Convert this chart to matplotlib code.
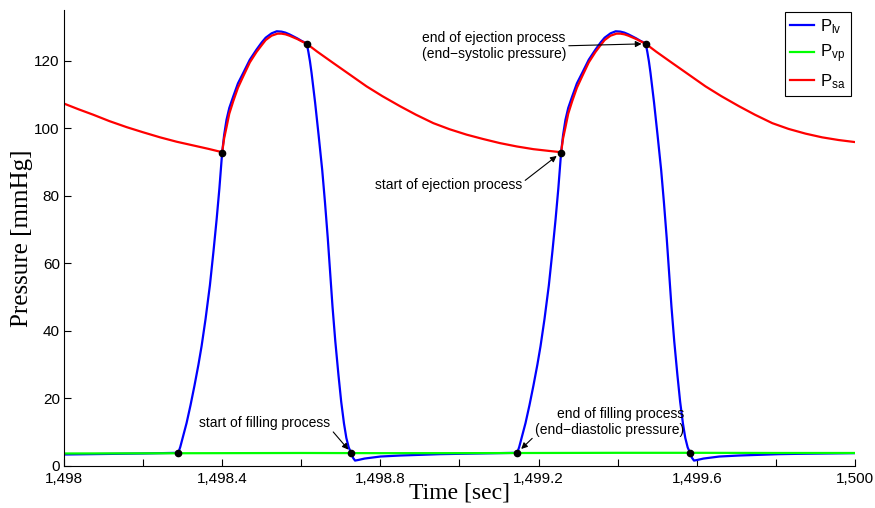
import numpy as np
import matplotlib
matplotlib.use("Agg")
import matplotlib.pyplot as plt

plt.rcParams['font.family'] = ['Liberation Sans', 'DejaVu Sans']

# left ventricular pressure, first beat
t_lv1 = [1498.000, 1498.100, 1498.200, 1498.289, 1498.294, 1498.300, 1498.310,
         1498.320, 1498.330, 1498.340, 1498.348, 1498.358, 1498.369, 1498.378,
         1498.386, 1498.393, 1498.400, 1498.405, 1498.411, 1498.418, 1498.428,
         1498.440, 1498.453, 1498.470, 1498.487, 1498.500, 1498.510, 1498.525,
         1498.538, 1498.550, 1498.560, 1498.570, 1498.580, 1498.590, 1498.600,
         1498.607, 1498.614, 1498.618, 1498.622, 1498.626, 1498.630, 1498.635,
         1498.644, 1498.653, 1498.660, 1498.667, 1498.673, 1498.679, 1498.686,
         1498.694, 1498.701, 1498.708, 1498.714, 1498.720, 1498.726, 1498.731,
         1498.736, 1498.745, 1498.760, 1498.780, 1498.800, 1498.850, 1498.900,
         1498.950, 1499.000, 1499.070]
p_lv1 = [3.4, 3.55, 3.7, 3.9, 5.6, 8.3, 12.7,
         18.0, 23.8, 30.0, 35.5, 43.5, 53.5, 63.5,
         73.0, 82.2, 92.8, 98.0, 102.5, 106.0, 109.4,
         113.3, 116.3, 120.3, 123.3, 125.4, 126.8, 128.1,
         128.7, 128.6, 128.3, 127.8, 127.2, 126.6, 125.9,
         125.5, 125.0, 122.6, 119.8, 116.4, 112.6, 107.6,
         97.8, 87.6, 78.0, 67.5, 57.5, 47.2, 37.0,
         27.0, 19.0, 12.6, 8.3, 5.5, 3.9, 2.4,
         1.6, 1.8, 2.2, 2.5, 2.8, 3.1, 3.3,
         3.5, 3.6, 3.75]

# left ventricular pressure, second beat
t_lv2 = [1499.146, 1499.151, 1499.157, 1499.167, 1499.177, 1499.187, 1499.197,
         1499.205, 1499.215, 1499.226, 1499.235, 1499.243, 1499.250, 1499.257,
         1499.262, 1499.268, 1499.275, 1499.285, 1499.297, 1499.310, 1499.327,
         1499.344, 1499.357, 1499.367, 1499.382, 1499.395, 1499.407, 1499.417,
         1499.427, 1499.437, 1499.447, 1499.457, 1499.464, 1499.471, 1499.475,
         1499.479, 1499.483, 1499.487, 1499.492, 1499.501, 1499.510, 1499.517,
         1499.524, 1499.530, 1499.536, 1499.543, 1499.551, 1499.558, 1499.565,
         1499.571, 1499.577, 1499.583, 1499.588, 1499.593, 1499.602, 1499.617,
         1499.637, 1499.657, 1499.707, 1499.757, 1499.807, 1499.857, 1500.000]
p_lv2 = [3.9, 5.6, 8.3, 12.7, 18.0, 23.8, 30.0,
         35.5, 43.5, 53.5, 63.5, 73.0, 82.2, 92.8,
         98.0, 102.5, 106.0, 109.4, 113.3, 116.3, 120.3,
         123.3, 125.4, 126.8, 128.1, 128.7, 128.6, 128.3,
         127.8, 127.2, 126.6, 125.9, 125.5, 125.0, 122.6,
         119.8, 116.4, 112.6, 107.6, 97.8, 87.6, 78.0,
         67.5, 57.5, 47.2, 37.0, 27.0, 19.0, 12.6,
         8.3, 5.5, 3.9, 2.4, 1.6, 1.8, 2.2,
         2.5, 2.8, 3.1, 3.3, 3.5, 3.6, 3.8]

# pulmonary venous pressure
t_vp = [1498.0, 1498.2, 1498.4, 1498.6, 1498.8, 1499.0, 1499.2, 1499.4,
        1499.6, 1499.8, 1500.0]
p_vp = [3.7, 3.75, 3.8, 3.85, 3.8, 3.8, 3.85, 3.9, 3.9, 3.85, 3.85]

# systemic arterial pressure
t_sa = [1498.000, 1498.037, 1498.074, 1498.115, 1498.159, 1498.200, 1498.243,
        1498.285, 1498.327, 1498.365, 1498.400, 1498.405, 1498.411, 1498.418,
        1498.428, 1498.440, 1498.453, 1498.470, 1498.487, 1498.500, 1498.510,
        1498.525, 1498.540, 1498.550, 1498.560, 1498.570, 1498.580, 1498.590,
        1498.600, 1498.607, 1498.614, 1498.640, 1498.681, 1498.720, 1498.765,
        1498.805, 1498.850, 1498.890, 1498.934, 1498.975, 1499.018, 1499.060,
        1499.102, 1499.145, 1499.187, 1499.225, 1499.257, 1499.262, 1499.268,
        1499.275, 1499.285, 1499.297, 1499.310, 1499.327, 1499.344, 1499.357,
        1499.367, 1499.382, 1499.397, 1499.407, 1499.417, 1499.427, 1499.437,
        1499.447, 1499.457, 1499.464, 1499.471, 1499.497, 1499.538, 1499.577,
        1499.622, 1499.662, 1499.707, 1499.747, 1499.791, 1499.832, 1499.875,
        1499.917, 1499.959, 1500.000]
p_sa = [107.3, 105.6, 104.0, 102.1, 100.3, 98.8, 97.3,
        96.0, 94.9, 93.9, 92.9, 97.0, 100.3, 104.3,
        108.0, 112.0, 115.3, 119.5, 122.6, 124.6, 126.1,
        127.4, 128.0, 128.0, 127.8, 127.4, 126.9, 126.4,
        125.8, 125.4, 125.0, 122.7, 119.3, 116.1, 112.4,
        109.5, 106.5, 104.0, 101.5, 99.7, 98.1, 96.8,
        95.6, 94.6, 93.8, 93.3, 92.9, 97.0, 100.3,
        104.3, 108.0, 112.0, 115.3, 119.5, 122.6, 124.6,
        126.1, 127.4, 128.0, 128.0, 127.8, 127.4, 126.9,
        126.4, 125.8, 125.4, 125.0, 122.7, 119.3, 116.1,
        112.4, 109.5, 106.5, 104.0, 101.5, 99.8, 98.4,
        97.3, 96.5, 95.9]

# valve events (filling end, ejection start, ejection end, filling start)
ev_t = [1498.289, 1498.400, 1498.614, 1498.726, 1499.146, 1499.257, 1499.471, 1499.583]
ev_p = [3.9, 92.8, 125.0, 3.9, 3.9, 92.8, 125.0, 3.9]

xticks = [1498.0, 1498.2, 1498.4, 1498.6, 1498.8, 1499.0, 1499.2, 1499.4, 1499.6, 1499.8, 1500.0]
xlabels = ['1,498', '', '1,498.4', '', '1,498.8', '', '1,499.2', '', '1,499.6', '', '1,500']
yticks = [0, 20, 40, 60, 80, 100, 120]

fig = plt.figure(figsize=(8.75, 5.08), dpi=100)
ax = fig.add_axes([0.0731, 0.0827, 0.904, 0.8976])

ax.plot(t_lv1 + t_lv2, p_lv1 + p_lv2, color='#0000ff', lw=1.6, label=r'$\mathregular{P_{lv}}$')
ax.plot(t_vp, p_vp, color='#00ff00', lw=1.6, label=r'$\mathregular{P_{vp}}$')
ax.plot(t_sa, p_sa, color='#ff0000', lw=1.6, label=r'$\mathregular{P_{sa}}$')
ax.plot(ev_t, ev_p, 'o', color='black', ms=4.5, zorder=5)

ax.set_xlim(1498, 1500)
ax.set_ylim(0, 135)
ax.set_xticks(xticks)
ax.set_xticklabels(xlabels)
ax.set_yticks(yticks)
ax.tick_params(direction='in', length=5, width=0.8, labelsize=11, pad=3)
ax.tick_params(axis='x', pad=4.5)
for s in ['top', 'right']:
    ax.spines[s].set_visible(False)
for s in ['left', 'bottom']:
    ax.spines[s].set_linewidth(0.8)

ax.set_xlabel('Time [sec]', family='Liberation Serif', fontsize=17, labelpad=-3)
ax.set_ylabel('Pressure [mmHg]', family='Liberation Serif', fontsize=18, labelpad=1)

apr = dict(arrowstyle='-|>', color='black', lw=0.8, mutation_scale=9, shrinkA=0)
ax.annotate('end of ejection process\n(end\u2212systolic pressure)',
            xy=(ev_t[6], ev_p[6]), xytext=(1499.087, 124.4),
            ha='center', va='center', fontsize=10,
            arrowprops=dict(apr, shrinkB=3, relpos=(1.0, 0.5)))
ax.annotate('start of ejection process',
            xy=(ev_t[5], ev_p[5]), xytext=(1498.973, 83.3),
            ha='center', va='center', fontsize=10,
            arrowprops=dict(apr, shrinkB=4, relpos=(1.0, 0.65)))
ax.annotate('start of filling process',
            xy=(ev_t[3], ev_p[3]), xytext=(1498.508, 12.7),
            ha='center', va='center', fontsize=10,
            arrowprops=dict(apr, shrinkB=3, relpos=(1.0, 0.1)))
ax.annotate('end of filling process\n(end\u2212diastolic pressure)',
            xy=(ev_t[4], ev_p[4]), xytext=(1499.568, 13.0),
            ha='right', va='center', fontsize=10, multialignment='right',
            arrowprops=dict(apr, shrinkB=4, relpos=(0.0, 0.05)))

leg = ax.legend(loc='upper right', bbox_to_anchor=(0.995, 0.995), borderaxespad=0,
                fontsize=12, fancybox=False, framealpha=1, edgecolor='black',
                handlelength=1.4, handletextpad=0.4, labelspacing=0.4, borderpad=0.3)
leg.get_frame().set_linewidth(0.8)

fig.savefig('out.png', dpi=100)
